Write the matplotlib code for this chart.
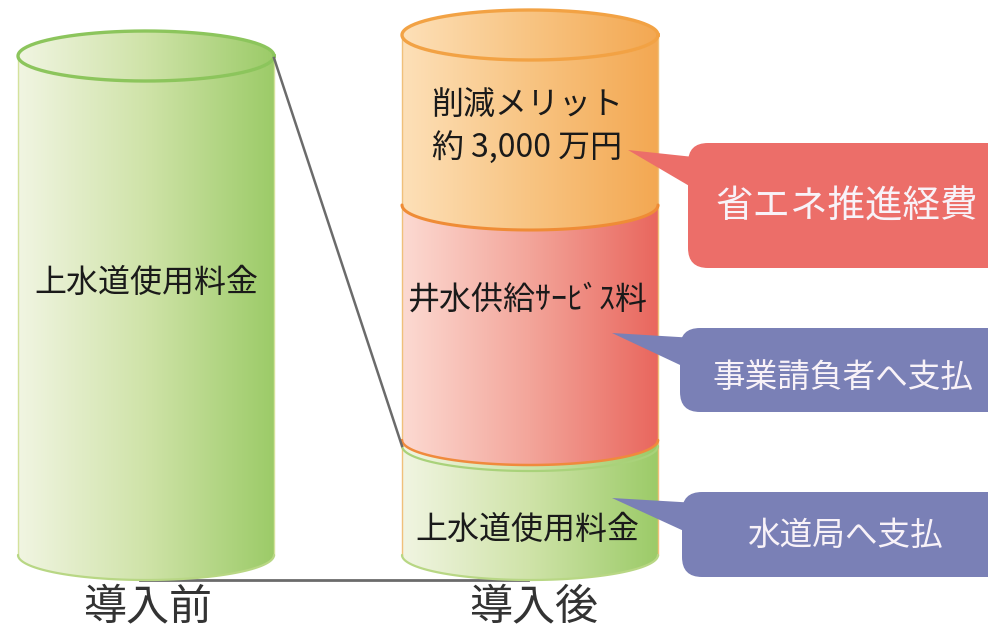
import numpy as np
import matplotlib
matplotlib.use('Agg')
import matplotlib.pyplot as plt
from matplotlib.path import Path
from matplotlib.patches import PathPatch, FancyBboxPatch, Polygon
from matplotlib.colors import LinearSegmentedColormap

plt.rcParams['font.family'] = ['Noto Sans CJK JP', 'DejaVu Sans']

# ---- data ----
stages = ['導入前', '導入後']
before_labels = ['上水道使用料金']
before_values = [499]
after_labels = ['上水道使用料金', '井水供給ｻｰﾋﾞｽ料', '削減メリット\n約 3,000 万円']
after_values = [115, 235, 170]
callout_labels = ['水道局へ支払', '事業請負者へ支払', '省エネ推進経費']

# ---- layout ----
W, H = 988, 630
BASE = 555
CX = [146, 530]
HW = 128
RY = 25

green = LinearSegmentedColormap.from_list('g', ['#f1f5e2', '#cfe3a8', '#9ccb68'])
orange = LinearSegmentedColormap.from_list('o', ['#fde0b8', '#f8c482', '#f3a852'])
red = LinearSegmentedColormap.from_list('r', ['#fcdad2', '#f3a59a', '#e9675e'])

fig = plt.figure(figsize=(W / 100, H / 100), dpi=100)
ax = fig.add_axes([0, 0, 1, 1])
ax.set_xlim(0, W)
ax.set_ylim(H, 0)
ax.axis('off')

grad = np.linspace(0, 1, 256).reshape(1, -1)


def body_path(cx, ytop, ybot):
    t = np.linspace(np.pi, 0, 80)
    xs = cx + HW * np.cos(t)
    ys = ybot + RY * np.sin(t)
    verts = [(cx - HW, ytop)] + list(zip(xs, ys)) + [(cx + HW, ytop), (cx - HW, ytop)]
    codes = [Path.MOVETO] + [Path.LINETO] * (len(verts) - 2) + [Path.CLOSEPOLY]
    return Path(verts, codes)


def ellipse_path(cx, yc):
    t = np.linspace(0, 2 * np.pi, 160)
    verts = list(zip(cx + HW * np.cos(t), yc + RY * np.sin(t)))
    return Path(verts, closed=True)


def grad_fill(path, cmap, z, ytop, ybot):
    patch = PathPatch(path, facecolor='none', edgecolor='none', zorder=z)
    ax.add_patch(patch)
    im = ax.imshow(grad, cmap=cmap, aspect='auto', interpolation='bicubic',
                   extent=[path.vertices[:, 0].min(), path.vertices[:, 0].max(), ybot + RY + 3, ytop - RY - 3],
                   zorder=z)
    im.set_clip_path(patch)


def bottom_arc(cx, yc, color, lw, z):
    t = np.linspace(np.pi, 0, 80)
    ax.plot(cx + HW * np.cos(t), yc + RY * np.sin(t), color=color, lw=lw, zorder=z, solid_capstyle='round')


def cylinder(cx, values, cmaps, arc_colors, arc_lws, top_color, side_color, z0):
    ybot = BASE
    tops = []
    for i, (v, cm, ac, alw) in enumerate(zip(values, cmaps, arc_colors, arc_lws)):
        ytop = ybot - v
        z = z0 + i * 2
        grad_fill(body_path(cx, ytop, ybot), cm, z, ytop, ybot)
        ax.plot([cx - HW, cx - HW], [ytop, ybot], color=side_color, lw=1, zorder=z + 0.5)
        ax.plot([cx + HW, cx + HW], [ytop, ybot], color=side_color, lw=1, zorder=z + 0.5)
        bottom_arc(cx, ybot, ac, alw, z + 0.6)
        tops.append((ybot, ytop))
        ybot = ytop
    # top ellipse
    ytop = tops[-1][1]
    grad_fill(ellipse_path(cx, ytop), cmaps[-1], z0 + 10, ytop, ytop)
    t = np.linspace(0, 2 * np.pi, 160)
    ax.plot(cx + HW * np.cos(t), ytop + RY * np.sin(t), color=top_color, lw=2.4, zorder=z0 + 11)
    return tops


# guide lines
ax.plot([CX[0] - 6, CX[1] - 2], [BASE + RY, BASE + RY], color='#6b6b6b', lw=2, zorder=1)
left_tops = cylinder(CX[0], before_values, [green], ['#b8d784'], [1.6], '#8cc55c', '#d4e29c', 2)
right_tops = cylinder(CX[1], after_values, [green, red, orange],
                      ['#b8d784', '#f08a3c', '#ef8c36'], [1.6, 1.8, 2.2], '#f2a244', '#f0c07a', 20)
# green ring under red segment
bottom_arc(CX[1], right_tops[0][1] + 6, '#a9d27a', 1.6, 21)

ax.plot([CX[0] + HW, CX[1] - HW], [left_tops[0][1] + 2, right_tops[0][1] + 6], color='#6b6b6b', lw=1.8, zorder=40)

# texts in cylinders
txt_kw = dict(ha='center', va='center', color='#1a1a1a', fontsize=23, zorder=50)
ax.text(CX[0], 283, before_labels[0], **txt_kw)
ax.text(CX[1] - 3, 530, after_labels[0], **txt_kw)
ax.text(CX[1] - 3, 300, after_labels[1], **txt_kw)
ax.text(CX[1] - 3, 127, after_labels[2], linespacing=1.32, multialignment='center', **txt_kw)

# stage labels
for cx, s in zip([148, 534], stages):
    ax.text(cx, 607, s, ha='center', va='center', fontsize=31, color='#333333', zorder=50)

# callouts
call_specs = [
    # box x0, y0, y1, tip, base y0, base y1, text x, text y, color, fontsize
    (682, 492, 577, (612, 498), 503, 537, 845, 536, '#7a80b6', 23.5),
    (680, 328, 412, (612, 333), 338, 372, 843, 378, '#7a80b6', 23.5),
    (688, 143, 268, (628, 150), 158, 194, 847, 207, '#ec6e69', 27),
]
for lab, (bx, by0, by1, tip, b0, b1, tx, ty, col, fs) in zip(callout_labels, call_specs):
    box = FancyBboxPatch((bx, by0), 1030 - bx, by1 - by0,
                         boxstyle='round,pad=0,rounding_size=20',
                         facecolor=col, edgecolor='none', zorder=60)
    ax.add_patch(box)
    ax.add_patch(Polygon([tip, (bx + 15, b0), (bx + 15, b1)], closed=True,
                         facecolor=col, edgecolor='none', zorder=60))
    ax.text(tx, ty, lab, ha='center', va='center', color='#f8f2f8', fontsize=fs, zorder=61)

fig.savefig('out.png', dpi=100)
